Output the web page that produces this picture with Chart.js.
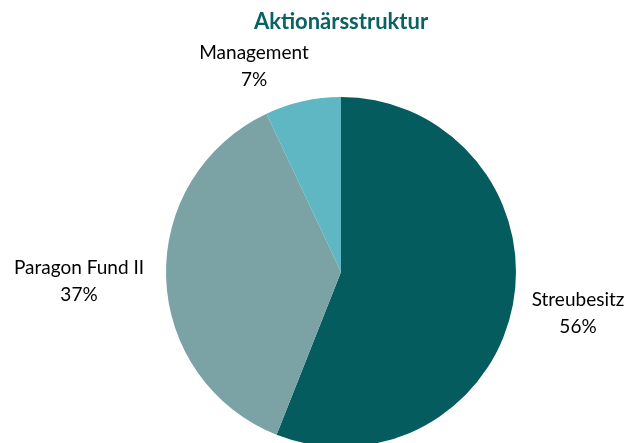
<!DOCTYPE html>
<html><head><meta charset="utf-8">
<script src="https://cdn.jsdelivr.net/npm/chart.js@4"></script>
<style>html,body{margin:0;padding:0;overflow:hidden;background:#fff;width:628px;height:443px}#w{position:absolute;left:0;top:0;width:628px;height:460px}</style>
</head><body><div id="w"><canvas id="c" width="628" height="460"></canvas></div>
<script>
const categories = ["Streubesitz", "Paragon Fund II", "Management"];
const shares = [56, 37, 7];
const percentLabels = ["56%", "37%", "7%"];
const chartTitle = "Aktionärsstruktur";

const colors = ["#055C5E", "#7BA3A6", "#5FB7C3"];
const labelPos = [[578, 300], [79, 268], [254, 53]];
const FONT = "Lato, 'Liberation Sans', sans-serif";

const textPlugin = {
  id: 'texts',
  afterDraw(chart) {
    const ctx = chart.ctx;
    ctx.save();
    ctx.textAlign = 'center';
    ctx.textBaseline = 'middle';
    ctx.fillStyle = '#0A6265';
    ctx.font = "bold 22px " + FONT;
    ctx.fillText(chartTitle, 341, 22);
    ctx.fillStyle = '#000';
    ctx.font = "19px " + FONT;
    categories.forEach((c, i) => {
      const [x, y] = labelPos[i];
      ctx.fillText(c, x, y);
      ctx.fillText(percentLabels[i], x, y + 27);
    });
    ctx.restore();
  }
};

new Chart(document.getElementById('c'), {
  type: 'pie',
  data: { labels: categories, datasets: [{ data: shares, backgroundColor: colors, borderWidth: 0 }] },
  options: {
    responsive: false, animation: false,
    layout: { padding: { top: 97, bottom: 13, left: 166, right: 112 } },
    plugins: { legend: { display: false }, tooltip: { enabled: false }, title: { display: false } }
  },
  plugins: [textPlugin]
});
</script></body></html>
